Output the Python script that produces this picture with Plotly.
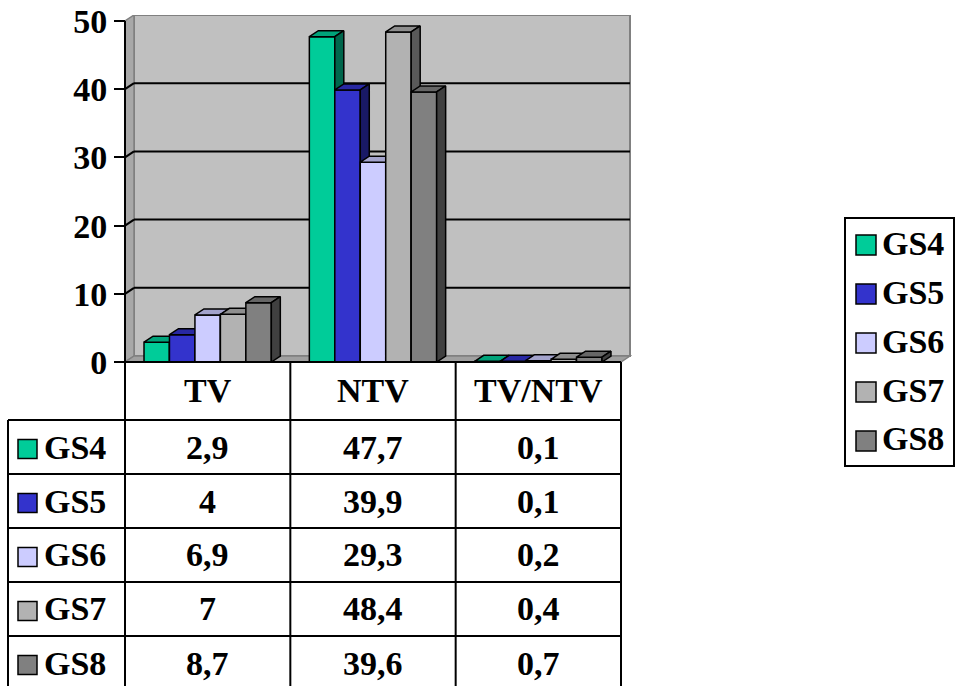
import plotly.graph_objects as go

# ---- data -------------------------------------------------------------
categories = ["TV", "NTV", "TV/NTV"]
series_names = ["GS4", "GS5", "GS6", "GS7", "GS8"]
gs4 = [2.9, 47.7, 0.1]
gs5 = [4, 39.9, 0.1]
gs6 = [6.9, 29.3, 0.2]
gs7 = [7, 48.4, 0.4]
gs8 = [8.7, 39.6, 0.7]
y_ticks = [0, 10, 20, 30, 40, 50]
front_colors = ["#00CC99", "#3333CC", "#CCCCFF", "#B2B2B2", "#808080"]

series_values = [gs4, gs5, gs6, gs7, gs8]

# ---- geometry ---------------------------------------------------------
W, H = 956, 686
UX = 496 / 3            # px per category unit
UY = 341 / 50           # px per value unit
DX = 9 / UX             # depth offset of the 3-D bars (x)
DY = 6 / UY             # depth offset of the 3-D bars (y)
XMIN = -0.5 - 5 / UX
XMAX = 2.5 + DX + 2 / UX
YMAX = 50 + DY
PLOT_L, PLOT_B = 120, 362
PLOT_W = (XMAX - XMIN) * UX
PLOT_H = YMAX * UY
PLOT_T = PLOT_B - PLOT_H

GROUP_W = 0.77
BAR_W = GROUP_W / len(series_names)

FONT = dict(family="Liberation Serif", size=34, color="black", weight="bold")


def xp(px):
    return (px - PLOT_L) / PLOT_W


def yp(py):
    return (PLOT_B - py) / PLOT_H


def shade(hex_color, f):
    h = hex_color.lstrip("#")
    r, g, b = (int(h[i:i + 2], 16) for i in (0, 2, 4))
    return "#%02X%02X%02X" % (int(r * f), int(g * f), int(b * f))


fig = go.Figure()

# ---- bars: one overlaid subplot per series so faces stack correctly ----
for k, (name, vals, col) in enumerate(zip(series_names, series_values, front_colors)):
    xa = "x" if k == 0 else f"x{k + 1}"
    ya = "y" if k == 0 else f"y{k + 1}"
    off = -GROUP_W / 2 + k * BAR_W
    xs = list(range(len(categories)))
    fig.add_trace(go.Bar(
        x=xs, y=vals, base=0, offset=off, width=BAR_W, name=name,
        marker=dict(color=col, line=dict(color="black", width=1.5)),
        xaxis=xa, yaxis=ya, showlegend=False,
    ))
    top_x, top_y, side_x, side_y = [], [], [], []
    for i, v in enumerate(vals):
        x0 = i + off
        x1 = x0 + BAR_W
        top_x += [x0, x0 + DX, x1 + DX, x1, x0, None]
        top_y += [v, v + DY, v + DY, v, v, None]
        side_x += [x1, x1 + DX, x1 + DX, x1, x1, None]
        side_y += [0, DY, v + DY, v, 0, None]
    fig.add_trace(go.Scatter(
        x=top_x, y=top_y, mode="lines", fill="toself",
        fillcolor=shade(col, 0.8), line=dict(color="black", width=1.5),
        xaxis=xa, yaxis=ya, showlegend=False, hoverinfo="skip",
    ))
    fig.add_trace(go.Scatter(
        x=side_x, y=side_y, mode="lines", fill="toself",
        fillcolor=shade(col, 0.5), line=dict(color="black", width=1.5),
        xaxis=xa, yaxis=ya, showlegend=False, hoverinfo="skip",
    ))

shapes = []
# back wall
shapes.append(dict(type="rect", xref="x", yref="y", x0=-0.5 + DX, x1=2.5 + DX,
                   y0=DY, y1=50 + DY, fillcolor="#C0C0C0",
                   line=dict(color="#808080", width=2), layer="below"))
# side wall
shapes.append(dict(type="path", xref="x", yref="y",
                   path=f"M{-0.5},0 L{-0.5},50 L{-0.5 + DX},{50 + DY} L{-0.5 + DX},{DY} Z",
                   fillcolor="#A8A8A8", line=dict(color="#808080", width=1.5), layer="below"))
# floor
shapes.append(dict(type="path", xref="x", yref="y",
                   path=f"M{-0.5},0 L{2.5},0 L{2.5 + DX},{DY} L{-0.5 + DX},{DY} Z",
                   fillcolor="#A0A0A0", line=dict(color="#808080", width=1.5), layer="below"))
# gridlines on the walls
for t in y_ticks[1:-1]:
    shapes.append(dict(type="line", xref="x", yref="y", x0=-0.5 + DX, x1=2.5 + DX,
                       y0=t + DY, y1=t + DY, line=dict(color="black", width=2), layer="below"))
    shapes.append(dict(type="line", xref="x", yref="y", x0=-0.5, x1=-0.5 + DX,
                       y0=t, y1=t + DY, line=dict(color="black", width=2), layer="below"))
# value axis line
shapes.append(dict(type="line", xref="x", yref="y", x0=-0.5, x1=-0.5, y0=0, y1=50,
                   line=dict(color="black", width=2)))

# ---- data table --------------------------------------------------------
HEADER_TOP, HEADER_BOT = 362, 420
ROW_H = 54
TABLE_LEFT, TABLE_RIGHT = 8, 621
row_tops = [HEADER_BOT + r * ROW_H for r in range(len(series_names))]

# header top edge
shapes.append(dict(type="line", xref="x", yref="paper", x0=-0.5, x1=2.5,
                   y0=yp(HEADER_TOP), y1=yp(HEADER_TOP), line=dict(color="black", width=2)))
# column dividers
for cx in [-0.5, 0.5, 1.5, 2.5]:
    shapes.append(dict(type="line", xref="x", yref="paper", x0=cx, x1=cx,
                       y0=yp(HEADER_TOP), y1=yp(H + 5), line=dict(color="black", width=2)))
# row lines and left border
for rt in row_tops:
    shapes.append(dict(type="line", xref="paper", yref="paper", x0=xp(TABLE_LEFT), x1=xp(TABLE_RIGHT),
                       y0=yp(rt), y1=yp(rt), line=dict(color="black", width=2)))
shapes.append(dict(type="line", xref="paper", yref="paper", x0=xp(TABLE_LEFT), x1=xp(TABLE_LEFT),
                   y0=yp(HEADER_BOT), y1=yp(H + 5), line=dict(color="black", width=2)))

annotations = []
for i, c in enumerate(categories):
    annotations.append(dict(x=i, y=yp((HEADER_TOP + HEADER_BOT) / 2), xref="x", yref="paper",
                            text=c, showarrow=False, font=FONT, xanchor="center", yanchor="middle"))

KEY = 19
for r, (name, vals, col) in enumerate(zip(series_names, series_values, front_colors)):
    cy = row_tops[r] + ROW_H / 2
    shapes.append(dict(type="rect", xref="paper", yref="paper",
                       x0=xp(18), x1=xp(18 + KEY), y0=yp(cy - KEY / 2 + 2), y1=yp(cy + KEY / 2 + 2),
                       fillcolor=col, line=dict(color="black", width=1.5)))
    annotations.append(dict(x=xp(42), y=yp(cy), xref="paper", yref="paper", text=name,
                            showarrow=False, font=FONT, xanchor="left", yanchor="middle"))
    for i, v in enumerate(vals):
        label = f"{v:g}".replace(".", ",")
        annotations.append(dict(x=i, y=yp(cy), xref="x", yref="paper", text=label,
                                showarrow=False, font=FONT, xanchor="center", yanchor="middle"))

# ---- legend -------------------------------------------------------------
LEG_L, LEG_R, LEG_T, LEG_B = 845, 954, 218, 466
shapes.append(dict(type="rect", xref="paper", yref="paper", x0=xp(LEG_L), x1=xp(LEG_R),
                   y0=yp(LEG_B), y1=yp(LEG_T), fillcolor="white", line=dict(color="black", width=2)))
LKEY = 20
for r, (name, col) in enumerate(zip(series_names, front_colors)):
    cy = 243 + r * 49
    shapes.append(dict(type="rect", xref="paper", yref="paper",
                       x0=xp(856), x1=xp(856 + LKEY), y0=yp(cy - LKEY / 2 + 2), y1=yp(cy + LKEY / 2 + 2),
                       fillcolor=col, line=dict(color="black", width=1.5)))
    annotations.append(dict(x=xp(880), y=yp(cy), xref="paper", yref="paper", text=name,
                            showarrow=False, font=FONT, xanchor="left", yanchor="middle"))

layout = dict(
    template="none",
    width=W, height=H,
    margin=dict(l=PLOT_L, r=W - PLOT_L - PLOT_W, t=PLOT_T, b=H - PLOT_B, pad=0, autoexpand=False),
    paper_bgcolor="white", plot_bgcolor="rgba(0,0,0,0)",
    barmode="overlay", showlegend=False,
    xaxis=dict(range=[XMIN, XMAX], visible=False, fixedrange=True, automargin=False),
    yaxis=dict(range=[0, YMAX], tickvals=y_ticks, ticktext=[str(t) for t in y_ticks],
               ticks="outside", ticklen=11, tickwidth=2, tickcolor="black",
               showgrid=False, zeroline=False, showline=False, automargin=False,
               anchor="free", position=xp(125), tickfont=FONT, fixedrange=True),
    shapes=shapes, annotations=annotations,
)
for k in range(2, len(series_names) + 1):
    layout[f"xaxis{k}"] = dict(range=[XMIN, XMAX], overlaying="x", anchor=f"y{k}",
                               visible=False, automargin=False)
    layout[f"yaxis{k}"] = dict(range=[0, YMAX], overlaying="y", anchor=f"x{k}",
                               visible=False, automargin=False)

fig.update_layout(**layout)
fig.write_html("out.html")
